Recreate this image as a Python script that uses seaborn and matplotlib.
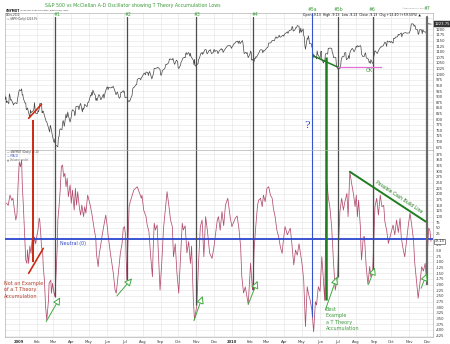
import numpy as np
import pandas as pd
import matplotlib
matplotlib.use("Agg")
import matplotlib.pyplot as plt
import matplotlib.dates as mdates
import seaborn as sns

# ---------------- data ----------------
nyse_holidays = ["2008-12-25", "2009-01-01", "2009-01-19", "2009-02-16", "2009-04-10",
                 "2009-05-25", "2009-07-03", "2009-09-07", "2009-11-26", "2009-12-25",
                 "2010-01-01", "2010-01-18", "2010-02-15", "2010-04-02", "2010-05-31",
                 "2010-07-05", "2010-09-06", "2010-11-25"]

spx_dec08 = [909, 888, 899, 873, 880, 869, 913, 904, 885, 888, 871, 863, 869, 873, 869, 890, 903]
spx_jan09 = [931, 927, 935, 907, 910, 891, 871, 872, 842, 844, 850, 806, 841, 828, 832, 837, 846, 874, 845, 826]
spx_feb09 = [825, 838, 832, 845, 869, 870, 828, 834, 836, 826, 789, 788, 779, 770, 743, 773, 764, 752, 735]
spx_mar09 = [700, 696, 712, 682, 683, 677, 720, 721, 750, 757, 753, 778, 794, 785, 768, 823, 806, 813, 832, 816, 787, 798]
spx_apr09 = [811, 834, 842, 835, 815, 825, 856, 858, 842, 852, 865, 870, 832, 850, 843, 851, 866, 858, 855, 873, 873]
spx_may09 = [878, 907, 903, 919, 907, 929, 909, 908, 884, 893, 882, 909, 908, 903, 888, 887, 911, 893, 906, 919]
spx_jun09 = [942, 944, 931, 942, 940, 939, 942, 940, 944, 946, 923, 911, 910, 918, 921, 893, 895, 900, 920, 918, 927, 919]
spx_jul09 = [923, 896, 898, 881, 879, 882, 879, 901, 905, 932, 940, 940, 951, 954, 954, 976, 979, 982, 979, 975, 986, 987]
spx_aug09 = [1002, 1005, 1002, 997, 1010, 1007, 994, 1006, 1012, 1005, 979, 990, 996, 1007, 1026, 1026, 1028, 1028, 1031, 1029, 1021]
spx_sep09 = [998, 995, 1003, 1016, 1025, 1033, 1044, 1042, 1049, 1053, 1068, 1066, 1068, 1064, 1071, 1061, 1050, 1044, 1063, 1060, 1057]
spx_oct09 = [1029, 1025, 1040, 1054, 1057, 1065, 1071, 1076, 1073, 1092, 1096, 1087, 1097, 1091, 1081, 1093, 1079, 1066, 1063, 1043, 1066, 1036]
spx_nov09 = [1042, 1045, 1046, 1066, 1069, 1093, 1093, 1098, 1088, 1093, 1110, 1110, 1109, 1094, 1091, 1106, 1105, 1110, 1092, 1096]
spx_dec09 = [1109, 1110, 1100, 1105, 1104, 1092, 1095, 1102, 1106, 1114, 1108, 1110, 1097, 1102, 1114, 1118, 1120, 1126, 1128, 1126, 1126, 1115]
spx_jan10 = [1133, 1137, 1137, 1142, 1145, 1147, 1137, 1146, 1148, 1136, 1150, 1138, 1116, 1092, 1097, 1092, 1097, 1084, 1074]
spx_feb10 = [1090, 1103, 1098, 1063, 1066, 1056, 1071, 1069, 1078, 1075, 1094, 1099, 1106, 1109, 1108, 1095, 1105, 1103, 1105]
spx_mar10 = [1115, 1118, 1119, 1123, 1139, 1139, 1141, 1146, 1150, 1150, 1150, 1159, 1166, 1166, 1160, 1166, 1174, 1167, 1165, 1166, 1173, 1174, 1169]
spx_apr10 = [1178, 1187, 1189, 1182, 1187, 1194, 1197, 1197, 1211, 1212, 1192, 1197, 1207, 1206, 1208, 1217, 1213, 1183, 1191, 1206, 1187]
spx_may10 = [1202, 1173, 1166, 1128, 1111, 1160, 1156, 1171, 1158, 1136, 1136, 1121, 1116, 1072, 1088, 1074, 1074, 1068, 1104, 1089]
spx_jun10 = [1070, 1098, 1103, 1065, 1050, 1062, 1056, 1087, 1092, 1090, 1115, 1114, 1116, 1117, 1114, 1096, 1092, 1074, 1076, 1074, 1041, 1031]
spx_jul10 = [1027, 1022, 1028, 1060, 1070, 1078, 1079, 1095, 1096, 1096, 1065, 1071, 1083, 1070, 1094, 1103, 1115, 1113, 1106, 1101, 1102]
spx_aug10 = [1125, 1120, 1127, 1126, 1122, 1128, 1122, 1090, 1084, 1079, 1080, 1093, 1095, 1076, 1071, 1067, 1052, 1056, 1048, 1065, 1048, 1049]
spx_sep10 = [1080, 1090, 1105, 1092, 1099, 1104, 1110, 1122, 1121, 1125, 1125, 1126, 1143, 1140, 1134, 1124, 1148, 1143, 1147, 1145, 1141]
spx_oct10 = [1146, 1138, 1160, 1159, 1158, 1165, 1166, 1170, 1178, 1174, 1176, 1184, 1166, 1178, 1180, 1183, 1185, 1185, 1183, 1183, 1183]
spx_nov10 = [1184, 1193, 1198, 1221, 1225, 1223, 1213, 1218, 1214, 1200, 1198, 1179, 1178, 1197, 1199, 1197, 1180, 1198, 1189, 1188, 1181]
spx_dec10 = [1206, 1221, 1225, 1224, 1224, 1223]
spx_close = (spx_dec08 + spx_jan09 + spx_feb09 + spx_mar09 + spx_apr09 + spx_may09 + spx_jun09
             + spx_jul09 + spx_aug09 + spx_sep09 + spx_oct09 + spx_nov09 + spx_dec09 + spx_jan10
             + spx_feb10 + spx_mar10 + spx_apr10 + spx_may10 + spx_jun10 + spx_jul10 + spx_aug10
             + spx_sep10 + spx_oct10 + spx_nov10 + spx_dec10)

# McClellan oscillator: days after 2009-01-01 and value
osc_day = [-21, -18, -15, -12, -10, -8, -6, -5, -3, -1, 1, 3, 5, 6, 8, 10, 12, 14, 15, 17, 19, 21, 23, 25,
           27, 29, 31, 33, 35, 36, 38, 39, 41, 42, 44, 46, 48, 51, 52, 55, 56, 58, 60, 62, 64, 66, 67, 69,
           71, 73, 75, 77, 79, 81, 83, 85, 88, 90, 92, 95, 97, 99, 101, 104, 106, 108, 111, 113, 115, 118,
           121, 123, 126, 129, 132, 133, 136, 138, 140, 143, 146, 149, 152, 153, 157, 162, 165, 167, 170,
           172, 174, 177, 179, 181, 183, 185, 189, 191, 197, 200, 203, 205, 207, 210, 211, 214, 218, 220,
           223, 226, 229, 230, 232, 234, 237, 242, 245, 248, 254, 257, 260, 263, 265, 268, 271, 274, 277,
           280, 282, 285, 288, 291, 294, 296, 299, 301, 305, 308, 311, 314, 317, 320, 323, 327, 331, 334,
           340, 342, 345, 348, 351, 354, 358, 362, 365, 371, 374, 377, 380, 382, 385, 388, 393, 397, 400,
           401, 403, 406, 409, 411, 414, 417, 419, 422, 425, 428, 431, 434, 436, 439, 442, 445, 448, 451,
           453, 456, 460, 465, 467, 471, 474, 477, 480, 485, 488, 491, 494, 496, 499, 502, 505, 508, 510,
           513, 516, 519, 521, 524, 526, 528, 530, 533, 536, 539, 542, 546, 548, 550, 553, 556, 558, 562,
           564, 567, 570, 573, 576, 578, 580, 582, 585, 586, 587, 590, 592, 595, 598, 601, 603, 606, 608,
           610, 613, 616, 619, 622, 625, 627, 630, 633, 636, 639, 641, 644, 647, 650, 653, 655, 658, 661,
           664, 667, 670, 672, 674, 676, 678, 681, 684, 687, 690, 693, 696, 699, 700, 702, 704, 706]
osc_value = [160, 150, 195, 172, 182, 144, 107, 85, 110, 247, 342, 320, 350, 247, 144, 26, -91, -106, -47, -106,
             -30, -62, 0, -40, 10, -20, 15, 40, 94, 85, 12, -33, -55, -121, -180, -297, -356, -268, -194,
             -180, -238, -194, -231, -253, -150, -33, 85, 144, 217, 320, 328, 276, 291, 232, 269, 188, 240,
             159, 217, 129, 225, 151, 210, 137, 107, 151, 100, 144, 115, 195, 166, 144, 100, 49, 4, -62,
             -121, -62, -33, 20, 63, 107, 49, 19, -62, -150, -224, -238, -165, -113, -62, -18, 49, 56, 19,
             -180, 144, 166, 217, 225, 232, 217, 203, 181, 195, 129, 100, 63, 34, -77, -165, -60, 71, 41,
             63, -224, -100, 50, 210, 150, 85, 56, -77, -20, -150, -238, -80, 71, 41, 60, -60, -10, -106,
             -30, -268, -356, -290, -100, 56, 85, -77, 100, 40, -62, -84, -40, 85, 100, 40, 122, 60, 151,
             181, 100, 56, 94, 103, 49, -33, -165, -237, -210, -287, -105, -215, -224, -50, 60, 151, 173,
             181, 144, 195, 166, 225, 232, 195, 181, 137, 100, 41, 12, -33, -62, -10, 56, 20, 49, 0, -113,
             -47, -70, -20, -106, -180, -385, -209, -238, -268, -312, -408, -275, -290, -209, -230, -77,
             -150, -270, 100, 247, 188, 137, 49, -100, -224, -165, 0, 122, 181, 129, 160, 203, 100, 298,
             247, 203, 144, 195, 100, 173, 56, -33, -91, 10, 12, -121, -199, -120, -165, -150, 0, 144, 181,
             107, 195, 144, 150, 78, 41, -18, 12, 41, 63, 20, 85, 30, 93, 10, -40, -77, -10, 60, 115, 80,
             41, -3, -100, -180, -260, -194, -121, -140, -106, -202, -50, 49, 40, -9.13]

# numbered T-theory lows (days after 2009-01-01) and where each marker stops on the oscillator
low_labels = ["#1", "#2", "#3", "#4", "#5b", "#6", "#7"]
low_days = [62, 186, 304, 401, 547, 606, 699]
low_osc_stop = [-253, -180, -290, -224, -165, -150, -202]

month_names = ["2009", "Feb", "Mar", "Apr", "May", "Jun", "Jul", "Aug", "Sep", "Oct", "Nov", "Dec",
               "2010", "Feb", "Mar", "Apr", "May", "Jun", "Jul", "Aug", "Sep", "Oct", "Nov", "Dec"]

# accumulation arrows: start (day, value) -> end (day, value)
arrow_start_day = [47, 168, 300, 393, 525, 599, 689]
arrow_start_val = [-363, -250, -359, -287, -312, -199, -216]
arrow_end_day = [71, 194, 315, 409, 545, 610, 699]
arrow_end_val = [-256, -172, -250, -183, -165, -124, -150]

# ---------------- figure ----------------
sns.set_style("white")
plt.rcParams["font.family"] = ["DejaVu Sans"]

W, H = 450, 344
fig = plt.figure(figsize=(W / 100, H / 100), dpi=100)
fig.patch.set_facecolor("white")


def frame(x0, y0, x1, y1):
    return [x0 / W, 1 - y1 / H, (x1 - x0) / W, (y1 - y0) / H]


def P(x, y):
    return (x / W, 1 - y / H)


base = pd.Timestamp("2009-01-01")


def D(day):
    return mdates.date2num(base + pd.Timedelta(days=day))


ax1 = fig.add_axes(frame(5, 13, 433, 150))
ax2 = fig.add_axes(frame(5, 150, 433, 337))

trade_dates = pd.bdate_range("2008-12-08", "2010-12-08", freq="C", holidays=nyse_holidays)
n = min(len(trade_dates), len(spx_close))
spx = pd.DataFrame({"date": trade_dates[:n], "close": spx_close[:n]})
osc = pd.DataFrame({"date": base + pd.to_timedelta(osc_day, unit="D"), "value": osc_value})

sns.lineplot(data=spx, x="date", y="close", ax=ax1, color="#444444", linewidth=0.5,
             estimator=None, sort=False, zorder=3)
sns.lineplot(data=osc, x="date", y="value", ax=ax2, color="#b24c6e", linewidth=0.55,
             estimator=None, sort=False, zorder=3)

xlim = (D(-23.5), D(709.4))
month_starts = pd.date_range("2009-01-01", "2010-12-01", freq="MS")
for ax in (ax1, ax2):
    ax.set_xlim(*xlim)
    ax.set_xlabel("")
    ax.set_ylabel("")
    ax.set_xticks(mdates.date2num(month_starts))
    ax.grid(True, color="#e3e3e3", linewidth=0.4)
    ax.set_axisbelow(True)
    for s in ax.spines.values():
        s.set_color("#a0a0a0")
        s.set_linewidth(0.4)
    ax.yaxis.tick_right()
    ax.tick_params(axis="both", length=0, labelsize=2.7, labelcolor="#333333", pad=2)

ax1.set_ylim(662.6, 1272.6)
ax2.set_ylim(-431, 394)
ax1.tick_params(axis="x", labelbottom=False)
ax1_ticks = np.arange(675, 1251, 25)
ax1.set_yticks(ax1_ticks)
ax1.set_yticklabels([str(t) if t <= 1200 else "" for t in ax1_ticks])
ax2_ticks = np.arange(-425, 376, 25)
ax2.set_yticks(ax2_ticks)
ax2.set_yticklabels(["" if t == 0 else str(t) for t in ax2_ticks])
ax2.set_xticklabels(month_names)
for lbl in ax2.get_xticklabels():
    if lbl.get_text().isdigit():
        lbl.set_fontweight("bold")

# current value boxes on the right scale
ax1.text(1.004, 1223.75, "1223.75", transform=ax1.get_yaxis_transform(), fontsize=2.7,
         color="white", va="center", ha="left",
         bbox=dict(boxstyle="square,pad=0.15", fc="#333333", ec="#333333", lw=0.3))
ax2.text(1.004, -9.13, "-9.13", transform=ax2.get_yaxis_transform(), fontsize=2.7,
         color="#111111", va="center", ha="left",
         bbox=dict(boxstyle="square,pad=0.15", fc="white", ec="#333333", lw=0.4))

# neutral line
ax2.axhline(0, color="#2c47cf", linewidth=1.3, zorder=4)

# numbered vertical markers
green_txt = "#3b9b3b"
for lab, d, stop in zip(low_labels, low_days, low_osc_stop):
    lw = 1.6 if lab == "#7" else 0.9
    col = "#6a6a6a" if lab == "#7" else "#4d4d4d"
    ax1.axvline(D(d), ymax=0.97, color=col, linewidth=lw, zorder=4)
    ax2.vlines(D(d), stop, 394, color=col, linewidth=lw, zorder=4)

# #5a blue marker, thick green marker, red marker
ax1.axvline(D(503), color="#3355cc", linewidth=0.8, zorder=4)
ax2.vlines(D(503), -341, 394, color="#3355cc", linewidth=0.8, zorder=4)
ax1.vlines(D(526), 662.6, 1075, color="#1f7d1f", linewidth=1.8, zorder=5)
ax2.vlines(D(526), -268, 394, color="#1f7d1f", linewidth=1.8, zorder=5)
ax1.vlines(D(24), 662.6, 796, color="#cc2a10", linewidth=1.4, zorder=5)
ax2.vlines(D(24), -100, 394, color="#cc2a10", linewidth=1.4, zorder=5)
ax1.plot([D(17), D(39)], [804, 866], color="#cc2a10", linewidth=1.2, zorder=5)
ax2.plot([D(17), D(42)], [-150, -40], color="#cc2a10", linewidth=1.2, zorder=5)

# trend lines in price panel
ax1.plot([D(504), D(547)], [1082, 1031], color="#1f7d1f", linewidth=1.1, zorder=5)
ax1.plot([D(547), D(620)], [1031, 1031], color="#e070d8", linewidth=0.9, zorder=5)

# possible cash build line
ax2.plot([D(567), D(697)], [298, 78], color="#1f7d1f", linewidth=1.4, zorder=5)

# accumulation arrows
for sd, sv, ed, ev in zip(arrow_start_day, arrow_start_val, arrow_end_day, arrow_end_val):
    ax2.annotate("", xy=(D(ed), ev), xytext=(D(sd), sv),
                 arrowprops=dict(arrowstyle="-|>,head_length=0.45,head_width=0.22",
                                 ec="#3faa3f", fc="white", lw=0.7, shrinkA=0, shrinkB=0),
                 zorder=6)

# ---------------- texts ----------------
fig.text(*P(133, 5), "S&P 500 vs McClellan A-D Oscillator showing T Theory Accumulation Lows",
         color=green_txt, fontsize=3.4, ha="center", va="center")
fig.text(*P(6, 10.5), "$NYMOT", fontsize=2.2, fontweight="bold", va="center", color="#111111")
fig.text(*P(20, 10.5), "(NYSE McClellan Oscillator (Traditional)) INDX", fontsize=1.5,
         va="center", color="#333333")
fig.text(*P(6, 15), "9-Dec-2010", fontsize=1.8, va="center", color="#333333")
fig.text(*P(7, 19.3), "\u2014 $SPX (Daily) 1223.75", fontsize=1.8, va="center", color="#333333")

fig.text(*P(7, 152.3), "\u2014 $NYMOT (Daily) -9.13", fontsize=1.9, va="center", color="#333333")
fig.text(*P(7, 156), "\u2014 MA(1)", fontsize=1.9, va="center", color="#2c47cf")
fig.text(*P(7, 160), "\u25b2 Volume undef", fontsize=1.9, va="center", color="#777777")

fig.text(*P(402, 8), "\u00a9StockCharts.com", fontsize=1.7, va="center", color="#888888")
fig.text(*P(303, 15), "Open -9.13  High -9.13  Low -9.13  Close -9.13  Chg +13.40 (+59.50%) \u25b2",
         fontsize=2.3, va="center", color="#111111")

marker_text_pos = [(57, 15), (128, 14), (197, 14), (255, 15), (338, 9.5), (372, 9.5), (427, 8.5)]
for lab, (x, y) in zip(low_labels, marker_text_pos):
    fig.text(*P(x, y), lab, fontsize=3.3, color=green_txt, ha="center", va="center")
fig.text(*P(312.5, 9.5), "#5a", fontsize=3.3, color=green_txt, ha="center", va="center")

fig.text(*P(369, 70.5), "OK", fontsize=3.6, color=green_txt, ha="center", va="center")
fig.text(*P(307.5, 126), "?", fontsize=7.5, color="#2e4fc4", ha="center", va="center",
         family="DejaVu Serif")
fig.text(*P(60, 243.3), "Neutral (0)", fontsize=3.4, color="#2c47cf", ha="left", va="center")
fig.text(*P(4, 290), "Not an Example\nof a T Theory\nAccumulation", fontsize=3.5,
         color="#b0402c", ha="left", va="center", linespacing=1.3)
fig.text(*P(326, 319), "Best\nExample\na T Theory\nAccumulation", fontsize=3.5,
         color=green_txt, ha="left", va="center", linespacing=1.3)
fig.text(*P(398.5, 196.5), "Possible Cash Build Line", fontsize=3.3, color="#1f7d1f",
         ha="center", va="center", rotation=-33.5)

fig.savefig("out.png", dpi=100, facecolor="white")
